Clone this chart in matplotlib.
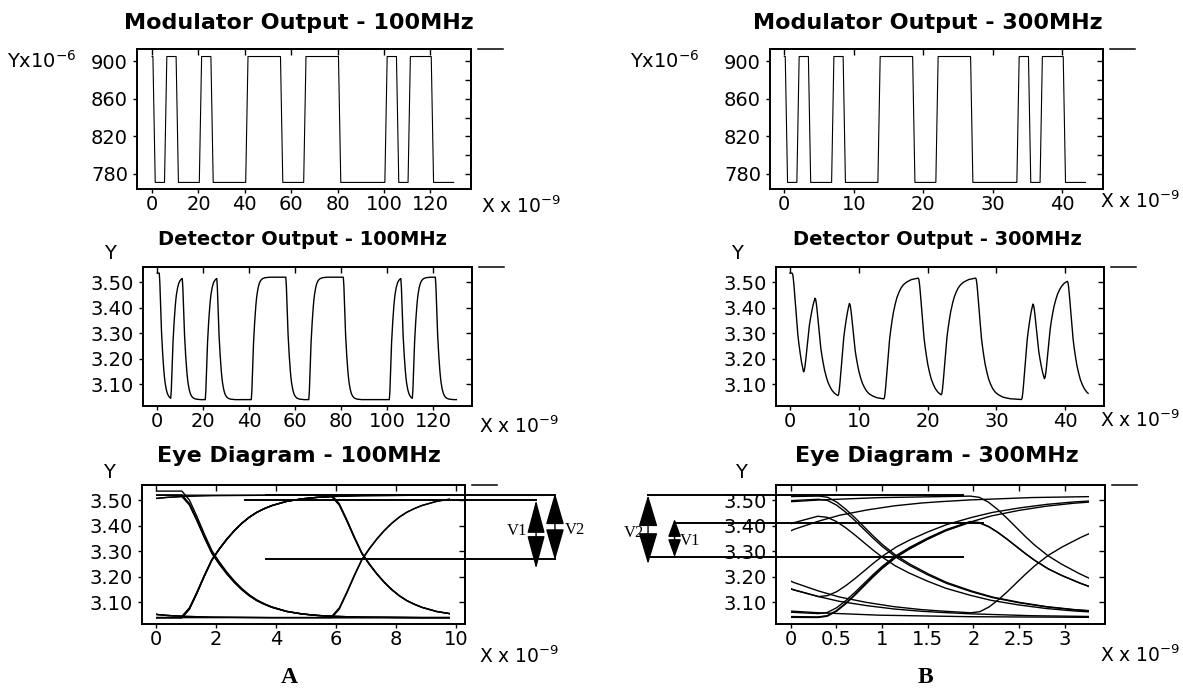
import numpy as np
import matplotlib.pyplot as plt
from matplotlib.patches import Rectangle, FancyArrowPatch, ArrowStyle
from matplotlib.lines import Line2D
from matplotlib.ticker import FormatStrFormatter

W, H = 1183, 690
fig = plt.figure(figsize=(W / 100, H / 100), dpi=100)

# ---- values ----
# start time (ns) of every bit transition; the modulator starts high
edges_100 = [0.86, 5.86, 10.86, 20.86, 25.86, 40.86, 55.86, 65.86, 80.86, 100.86, 105.86, 110.86, 120.86]
edges_300 = [0.30, 1.97, 3.63, 6.97, 8.63, 13.63, 18.63, 21.97, 26.97, 33.63, 35.30, 36.97, 40.30]
t_end_100, t_end_300 = 130.0, 43.33
ramp_100, ramp_300 = 1.0, 0.33
period_100, period_300 = 10.0, 3.333     # eye window = two bits

mod_high, mod_low = 905, 771             # Y x 1e-6
det_start, det_high, det_low = 3.536, 3.52, 3.04

# detector step response: fraction of the step still to go, vs time after a transition
resp_dt_100 = [0, 0.25, 0.5, 0.75, 1.0, 1.25, 1.5, 1.75, 2.0, 2.25, 2.5, 2.75, 3.0, 3.5, 4.0, 4.5, 5.0, 6.0, 8.0, 20.0]
resp_g_100 = [1.0, 0.93, 0.80, 0.66, 0.53, 0.44, 0.36, 0.29, 0.23, 0.18, 0.14, 0.11, 0.085, 0.05, 0.03, 0.018, 0.011, 0.004, 0.0, 0.0]
resp_dt_300 = [0, 0.1, 0.2, 0.3, 0.4, 0.5, 0.6, 0.7, 0.85, 1.0, 1.2, 1.4, 1.67, 1.9, 2.2, 2.5, 2.8, 3.0, 3.33, 4.0, 5.0, 6.67]
resp_g_300 = [1.0, 0.99, 0.95, 0.89, 0.82, 0.745, 0.67, 0.60, 0.51, 0.44, 0.36, 0.29, 0.22, 0.17, 0.125, 0.09, 0.066, 0.055, 0.04, 0.02, 0.0075, 0.001]

# eye diagram markers: V2 top, V1 top, crossing level
eye_lv_100 = [3.52, 3.50, 3.27]
eye_lv_300 = [3.52, 3.41, 3.277]


def modulator(edges, ramp, t_end):
    t, v = [0.0], [mod_high]
    lev = mod_high
    for e in edges:
        new = mod_low if lev == mod_high else mod_high
        t += [e - ramp / 2, e + ramp / 2]
        v += [lev, new]
        lev = new
    t.append(t_end)
    v.append(lev)
    return t, v


def detector(edges, dt_tab, g_tab, t_end):
    bounds = list(edges) + [t_end]
    t, v = [0.0], [det_start]
    lev, target = det_start, det_high
    for i, e in enumerate(edges):
        target = det_low if target == det_high else det_high
        seg = bounds[i + 1] - e
        t.append(e)
        v.append(lev)
        for d, g in zip(dt_tab, g_tab):
            if 0 < d < seg:
                t.append(e + d)
                v.append(target + (lev - target) * g)
        lev = target + (lev - target) * np.interp(seg, dt_tab, g_tab)
    t.append(t_end)
    v.append(lev)
    return np.array(t), np.array(v)


def px_rect(x0, y0, x1, y1):
    return [x0 / W, 1 - y1 / H, (x1 - x0) / W, (y1 - y0) / H]


def fig_text(x, y, s, **kw):
    kw.setdefault('va', 'baseline')
    fig.text(x / W, 1 - y / H, s, **kw)


def frame(ax, xticks, yticks, yminor=(), yfmt=None, xlabels=None):
    ax.set_xticks(xticks)
    if xlabels is not None:
        ax.set_xticklabels(xlabels)
    ax.set_yticks(yticks)
    if yfmt:
        ax.yaxis.set_major_formatter(FormatStrFormatter(yfmt))
    ax.tick_params(direction='out', length=3, width=1, labelsize=14)
    ax.tick_params(axis='x', pad=1.5)
    ax.tick_params(axis='y', pad=3.5)
    for s in ax.spines.values():
        s.set_linewidth(1.4)
    top = ax.secondary_xaxis('top')
    top.set_ticks(xticks)
    top.tick_params(direction='in', length=4, width=1, labeltop=False)
    right = ax.secondary_yaxis('right')
    right.set_ticks(sorted(list(yticks) + list(yminor)))
    right.tick_params(direction='in', length=4, width=1, labelright=False)
    for sec in (top, right):
        for s in sec.spines.values():
            s.set_linewidth(1.4)
    # the short dash right of the top edge
    x1 = ax.get_position().x1
    y1 = ax.get_position().y1
    fig.add_artist(Line2D([x1 + 7 / W, x1 + 32 / W], [y1, y1], color='k', lw=1.1))


def eye(ax, t, v, period, span, first=0):
    n = int(round(t[-1] / period))
    for k in range(first, n):
        ln, = ax.plot(t - k * period, v, color='k', lw=1.0)
        ln.set_clip_path(Rectangle((0, 2.9), span, 0.8, transform=ax.transData))


def varrow(ax, x, y0, y1, hl, hw):
    ax.add_patch(FancyArrowPatch((x, y0), (x, y1),
                                 arrowstyle=ArrowStyle('<|-|>', head_length=hl, head_width=hw),
                                 mutation_scale=1, color='k', lw=1.0,
                                 shrinkA=0, shrinkB=0, clip_on=False))


det_ylim = (3.015, 3.56)
det_yticks = [3.1, 3.2, 3.3, 3.4, 3.5]
ann = dict(color='k', lw=1.4, clip_on=False)
vfont = dict(family='Liberation Serif', fontsize=12, ha='center', va='center')

# ---- column A: 100 MHz ----
t_m, v_m = modulator(edges_100, ramp_100, t_end_100)
ax = fig.add_axes(px_rect(137, 49, 471, 189))
ax.plot(t_m, v_m, color='k', lw=0.8)
ax.set_xlim(-6.5, 137.5)
ax.set_ylim(764, 913)
frame(ax, range(0, 121, 20), [780, 820, 860, 900], [800, 840, 880])

t_d, v_d = detector(edges_100, resp_dt_100, resp_g_100, t_end_100)
ax = fig.add_axes(px_rect(143, 267, 472, 406))
ax.plot(t_d, v_d, color='k', lw=1.0)
ax.set_xlim(-6.2, 136.8)
ax.set_ylim(*det_ylim)
frame(ax, range(0, 121, 20), det_yticks, yfmt='%.2f')

ax = fig.add_axes(px_rect(142, 485, 465, 624))
eye(ax, t_d, v_d, period_100, 0.98 * period_100)
ax.plot([3.67, 13.3], [eye_lv_100[0]] * 2, **ann)
ax.plot([2.97, 12.67], [eye_lv_100[1]] * 2, **ann)
ax.plot([3.67, 13.3], [eye_lv_100[2]] * 2, **ann)
varrow(ax, 12.67, eye_lv_100[1], 3.232, 21, 5.6)
varrow(ax, 13.3, 3.528, 3.265, 20, 5.8)
ax.text(12.05, 3.38, 'V1', **vfont)
ax.text(13.95, 3.385, 'V2', **vfont)
ax.set_xlim(-0.47, 10.3)
ax.set_ylim(*det_ylim)
frame(ax, range(0, 11, 2), det_yticks, yfmt='%.2f')

# ---- column B: 300 MHz ----
t_m, v_m = modulator(edges_300, ramp_300, t_end_300)
ax = fig.add_axes(px_rect(770, 49, 1103, 189))
ax.plot(t_m, v_m, color='k', lw=0.8)
ax.set_xlim(-2.06, 45.86)
ax.set_ylim(764, 913)
frame(ax, range(0, 41, 10), [780, 820, 860, 900], [800, 840, 880])

t_d, v_d = detector(edges_300, resp_dt_300, resp_g_300, t_end_300)
ax = fig.add_axes(px_rect(776, 267, 1104, 406))
ax.plot(t_d, v_d, color='k', lw=1.0)
ax.set_xlim(-2.03, 45.64)
ax.set_ylim(*det_ylim)
frame(ax, range(0, 41, 10), det_yticks, yfmt='%.2f')

ax = fig.add_axes(px_rect(776, 485, 1105, 624))
eye(ax, t_d, v_d, period_300, 0.98 * period_300, first=1)
ax.plot([-1.56, 1.89], [eye_lv_300[0]] * 2, **ann)
ax.plot([-1.27, 2.1], [eye_lv_300[1]] * 2, **ann)
ax.plot([-1.56, 1.89], [eye_lv_300[2]] * 2, **ann)
varrow(ax, -1.56, eye_lv_300[0], 3.25, 20, 6.0)
varrow(ax, -1.27, 3.427, eye_lv_300[2], 11, 4.0)
ax.text(-1.71, 3.37, 'V2', **vfont)
ax.text(-1.10, 3.342, 'V1', **vfont)
ax.set_xlim(-0.16, 3.44)
ax.set_ylim(*det_ylim)
frame(ax, [0, 0.5, 1, 1.5, 2, 2.5, 3], det_yticks, yfmt='%.2f',
      xlabels=['0', '0.5', '1', '1.5', '2', '2.5', '3'])

# ---- titles and axis labels ----
bold = dict(ha='center', fontweight='bold')
fig_text(299, 29, 'Modulator Output - 100MHz', fontsize=16, **bold)
fig_text(928, 29, 'Modulator Output - 300MHz', fontsize=16, **bold)
fig_text(302, 245, 'Detector Output - 100MHz', fontsize=14, **bold)
fig_text(937, 245, 'Detector Output - 300MHz', fontsize=14, **bold)
fig_text(299, 462, 'Eye Diagram - 100MHz', fontsize=16, **bold)
fig_text(937, 462, 'Eye Diagram - 300MHz', fontsize=16, **bold)

fig_text(7, 68, 'Yx10$^{-6}$', ha='left', fontsize=14)
fig_text(630, 68, 'Yx10$^{-6}$', ha='left', fontsize=14)
fig_text(110, 259, 'Y', ha='center', fontsize=14)
fig_text(737, 259, 'Y', ha='center', fontsize=14)
fig_text(109, 478, 'Y', ha='center', fontsize=14)
fig_text(741, 478, 'Y', ha='center', fontsize=14)

xl = 'X x 10$^{-9}$'
xfs = 13.5
fig_text(481, 213, xl, ha='left', fontsize=xfs)
fig_text(1180, 208, xl, ha='right', fontsize=xfs)
fig_text(479, 433, xl, ha='left', fontsize=xfs)
fig_text(1180, 427, xl, ha='right', fontsize=xfs)
fig_text(479, 663, xl, ha='left', fontsize=xfs)
fig_text(1180, 662, xl, ha='right', fontsize=xfs)

fig_text(289, 683, 'A', ha='center', family='Liberation Serif', fontweight='bold', fontsize=17)
fig_text(925, 683, 'B', ha='center', family='Liberation Serif', fontweight='bold', fontsize=17)

fig.savefig('out.png', dpi=100)
